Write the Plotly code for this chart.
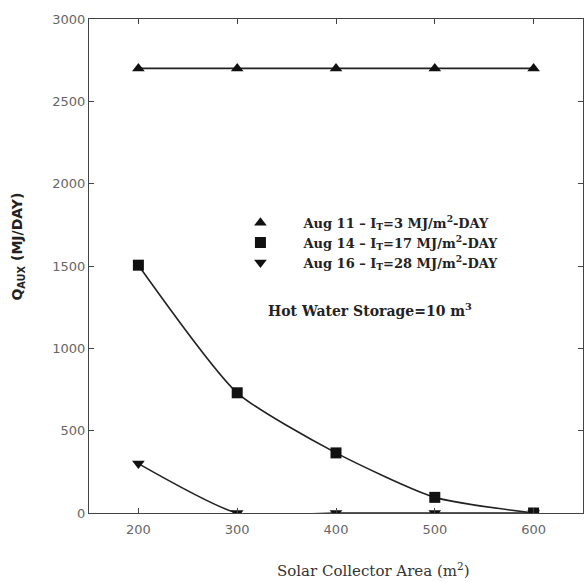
import plotly.graph_objects as go

area = [200, 300, 400, 500, 600]
aug11 = [2700, 2700, 2700, 2700, 2700]
aug14 = [1505, 730, 365, 95, 0]
aug16 = [300, 0, 0, 0, 0]

names = [
    "Aug 11 \u2013 I<sub>T</sub>=3 MJ/m<sup>2</sup>-DAY",
    "Aug 14 \u2013 I<sub>T</sub>=17 MJ/m<sup>2</sup>-DAY",
    "Aug 16 \u2013 I<sub>T</sub>=28 MJ/m<sup>2</sup>-DAY",
]
series = [aug11, aug14, aug16]
symbols = ["triangle-up", "square", "triangle-down"]

fig = go.Figure()
for ys, sym, nm in zip(series, symbols, names):
    fig.add_trace(go.Scatter(
        x=area, y=ys, mode="lines+markers", name=nm, showlegend=False,
        line=dict(color="#222", width=1.6, shape="spline", smoothing=0.6),
        marker=dict(symbol=sym, size=11, color="#111"),
    ))
for sym, nm in zip(symbols, names):
    fig.add_trace(go.Scatter(
        x=[None], y=[None], mode="markers", name=nm,
        marker=dict(symbol=sym, size=11, color="#111"),
    ))

fig.add_annotation(
    x=434, y=1235, xref="x", yref="y", showarrow=False,
    text="Hot Water Storage=10 m<sup>3</sup>",
    font=dict(family="DejaVu Serif", size=14, color="#222", weight="bold"),
)
fig.add_annotation(
    x=0.575, y=-0.115, xref="paper", yref="paper", showarrow=False,
    text="Solar Collector Area (m<sup>2</sup>)",
    font=dict(family="DejaVu Serif", size=15, color="#333"),
    yanchor="middle",
)
fig.add_annotation(
    x=-0.143, y=0.54, xref="paper", yref="paper", showarrow=False,
    text="Q<sub>AUX</sub> (MJ/DAY)", textangle=-90,
    xanchor="center", yanchor="middle",
    font=dict(family="DejaVu Sans", size=14, color="#222", weight="bold"),
)

axis_common = dict(
    showline=True, linecolor="#444", linewidth=1.2, mirror="ticks",
    ticks="inside", ticklen=5, tickcolor="#444", showgrid=False, zeroline=False,
    tickfont=dict(family="DejaVu Sans", size=13, color="#666"),
)
fig.update_xaxes(range=[150, 650], tickvals=area, ticklabelstandoff=4, **axis_common)
fig.update_yaxes(
    range=[0, 3000], tickvals=[0, 500, 1000, 1500, 2000, 2500, 3000],
    **axis_common,
)
fig.update_layout(
    width=585, height=582,
    margin=dict(l=89, r=2, t=19, b=69),
    paper_bgcolor="white", plot_bgcolor="white",
    showlegend=True,
    legend=dict(
        x=0.26, y=0.618, xanchor="left", yanchor="top",
        bgcolor="rgba(0,0,0,0)", itemwidth=76, tracegroupgap=0,
        font=dict(family="DejaVu Serif", size=13, color="#222", weight="bold"),
    ),
)
fig.write_html("out.html")
